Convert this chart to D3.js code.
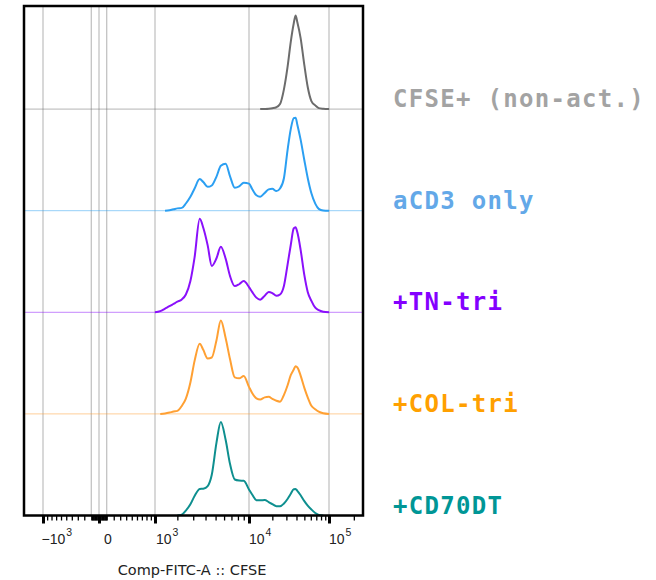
<!DOCTYPE html>
<html>
<head>
<meta charset="utf-8">
<script src="https://cdn.jsdelivr.net/npm/d3@7"></script>
<style>
  body { margin: 0; background: #fff; }
  svg { display: block; }
</style>
</head>
<body>
<svg id="chart" width="656" height="580"></svg>
<script>
// ---- data -------------------------------------------------------------
const samples = ["CFSE+ (non-act.)", "aCD3 only", "+TN-tri", "+COL-tri", "+CD70DT"];
const lineColors  = ["#6c6c6c", "#2b9ff2", "#8a10fb", "#ffa033", "#0e8f8f"];
const labelColors = ["#a3a3a3", "#63a8e8", "#8400ff", "#ffa000", "#009696"];

// CFSE intensity (compensated FITC-A) at which each histogram is sampled
const cfse = [850, 1000, 1200, 1400, 1600, 1800, 2000, 2250, 2500, 2800,
              3100, 3500, 3800, 4200, 4600, 5100, 5600, 6200, 6800, 7500,
              8200, 9000, 10000, 11000, 12500, 14000, 16000, 18000, 20000, 22500,
              25000, 28000, 31000, 34000, 37000, 39000, 41000, 45000, 50000, 55000,
              61000, 68000, 75000, 85000, 100000];

// % of mode for each sample
const nonAct = [0, 0, 0, 0, 0, 0, 0, 0, 0, 0,
                0, 0, 0, 0, 0, 0, 0, 0, 0, 0,
                0, 0, 0, 0, 0, 0, 0.2, 0.5, 1, 2,
                5.4, 21.4, 44.8, 72, 91.6, 100, 93, 76, 47, 23.6,
                8.6, 4, 1, 0.3, 0];
const aCD3 = [0, 0, 0, 0, 0.5, 1.5, 2.5, 3, 7.7, 14.8,
              23.8, 33.8, 30.6, 25.5, 27, 36.5, 48, 50.2, 36.8, 24.6,
              26, 30, 29, 23.3, 16.5, 15, 19, 22.8, 23.5, 21,
              23.8, 35, 64.6, 87.3, 99, 99.5, 92, 76, 54, 35,
              18.6, 7.6, 2, 0.3, 0];
const tnTri = [0, 0, 1.2, 4, 6.5, 9, 11.3, 13.7, 19, 33.5,
               58.8, 100, 90.5, 71.6, 49.6, 57.8, 70, 57.4, 38.7, 28,
               30, 33.4, 27, 21.8, 15.7, 13.5, 17.8, 21.8, 20.6, 17.7,
               19.1, 28.5, 50.8, 72, 89.7, 91, 85.5, 66.8, 39.7, 21.8,
               12.2, 4.9, 2.2, 0.6, 0];
const colTri = [0, 0, 0, 0.5, 1.4, 2.5, 3.2, 8.5, 16.4, 33.6,
                56.7, 75, 68.5, 59.3, 60.3, 78.8, 100, 81.2, 58.4, 39,
                38, 40.5, 28.9, 22.4, 16.6, 15.4, 17.7, 18.3, 16.1, 14,
                13.1, 20.4, 30.4, 41.4, 47.4, 51, 49.7, 41, 27.9, 17.7,
                8.7, 5, 2.4, 0.7, 0];
const cd70dt = [0, 0, 0, 0, 0, 0, 0, 1, 5.3, 12,
                20.9, 28.3, 28.7, 31.5, 43.6, 78, 100, 81, 55, 38.5,
                37.4, 37.1, 27.8, 22.5, 16.4, 16.2, 16.6, 14.4, 12.2, 10,
                9.9, 12.9, 17.7, 23.3, 28.1, 28.3, 26.4, 21.7, 15.4, 10.6,
                6.4, 2.7, 0.7, 0, 0];
const seriesValues = [nonAct, aCD3, tnTri, colTri, cd70dt];

// axis: labelled decades and grid lines
const majorTicks = [-1000, 0, 1000, 10000, 100000];
const tickBase   = ["\u221210", "0", "10", "10", "10"];
const tickExp    = ["3", "", "3", "4", "5"];
const gridValues = [-1000, -100, 0, 100, 1000, 10000, 100000];
const axisTitle  = "Comp-FITC-A :: CFSE";

// ---- layout -----------------------------------------------------------
const plot = { left: 24, right: 363, top: 6, bottom: 515.5 };

// biexponential-style display: near-linear around zero, logarithmic above 10^3
const x = d3.scaleSymlog().constant(1000)
  .domain(majorTicks)
  .range([43, 99, 155, 249, 329]);

const row = d3.scalePoint().domain(samples).range([109.1, plot.bottom]);
const h = d3.scaleLinear().domain([0, 100]).range([0, 93.5]);

const svg = d3.select("#chart");

// grid lines
svg.append("g").selectAll("line").data(gridValues).join("line")
  .attr("x1", d => x(d)).attr("x2", d => x(d))
  .attr("y1", plot.top).attr("y2", plot.bottom)
  .attr("stroke", "#c3c3c3").attr("stroke-width", 1.3);

// baselines of each stacked histogram
svg.append("g").selectAll("line").data(samples).join("line")
  .attr("x1", plot.left).attr("x2", plot.right)
  .attr("y1", d => row(d)).attr("y2", d => row(d))
  .attr("stroke", (d, i) => lineColors[i]).attr("stroke-opacity", 0.5)
  .attr("stroke-width", 1);

// histogram curves, drawn only over the populated range of each sample
samples.forEach((name, i) => {
  const vals = seriesValues[i];
  const pts = vals.map((v, j) => [cfse[j], v]);
  let first = vals.findIndex(v => v > 0);
  let last = vals.length - 1;
  while (last > 0 && vals[last] <= 0) last--;
  const used = pts.slice(Math.max(0, first - 1), Math.min(vals.length, last + 2));
  const line = d3.line()
    .x(d => x(d[0]))
    .y(d => row(name) - h(d[1]))
    .curve(d3.curveMonotoneX);
  svg.append("path")
    .datum(used)
    .attr("d", line)
    .attr("fill", "none")
    .attr("stroke", lineColors[i])
    .attr("stroke-width", 2)
    .attr("stroke-linejoin", "round");
});

// frame
svg.append("rect")
  .attr("x", plot.left).attr("y", plot.top)
  .attr("width", plot.right - plot.left).attr("height", plot.bottom - plot.top)
  .attr("fill", "none").attr("stroke", "#000").attr("stroke-width", 2.5);

// minor ticks
const minorTicks = [];
for (let k = 1; k <= 9; k++) { minorTicks.push(-k * 100, -k * 10, k * 10, k * 100); }
for (let k = 2; k <= 9; k++) { minorTicks.push(k * 1000, k * 10000, k * 100000); }
const minorInPlot = minorTicks.filter(v => x(v) > plot.left + 1 && x(v) < plot.right - 1);

const minorAxis = svg.append("g")
  .attr("transform", `translate(0,${plot.bottom})`)
  .call(d3.axisBottom(x).tickValues(minorInPlot).tickSize(5).tickFormat(""));
minorAxis.select(".domain").remove();
minorAxis.selectAll(".tick line").attr("stroke", "#000").attr("stroke-width", 1.3);

const majorAxis = svg.append("g")
  .attr("transform", `translate(0,${plot.bottom})`)
  .call(d3.axisBottom(x).tickValues(majorTicks).tickSize(8).tickFormat(""));
majorAxis.select(".domain").remove();
majorAxis.selectAll(".tick line").attr("stroke", "#000").attr("stroke-width", 3);

// tick labels with superscript exponents
const labelOffset = [-1.5, 5, 1, 0, 0];
const tl = svg.append("g")
  .attr("font-family", "'Liberation Sans', Arial, sans-serif")
  .attr("fill", "#222");
majorTicks.forEach((v, i) => {
  const t = tl.append("text")
    .attr("x", x(v) + labelOffset[i]).attr("y", 544)
    .attr("font-size", 14);
  t.append("tspan").text(tickBase[i]);
  if (tickExp[i]) {
    t.append("tspan").attr("dy", -8).attr("dx", 1).attr("font-size", 10.5).text(tickExp[i]);
  }
});

// axis title
svg.append("text")
  .attr("x", 192).attr("y", 575)
  .attr("text-anchor", "middle")
  .attr("font-family", "'DejaVu Sans', sans-serif")
  .attr("font-size", 14.5)
  .attr("fill", "#222")
  .text(axisTitle);

// sample names to the right of each histogram
svg.append("g").selectAll("text").data(samples).join("text")
  .attr("x", 393)
  .attr("y", d => row(d) - 2)
  .attr("font-family", "'DejaVu Sans Mono', monospace")
  .attr("font-weight", "bold")
  .attr("font-size", 24)
  .attr("letter-spacing", 1.3)
  .attr("fill", (d, i) => labelColors[i])
  .text(d => d);
</script>
</body>
</html>
